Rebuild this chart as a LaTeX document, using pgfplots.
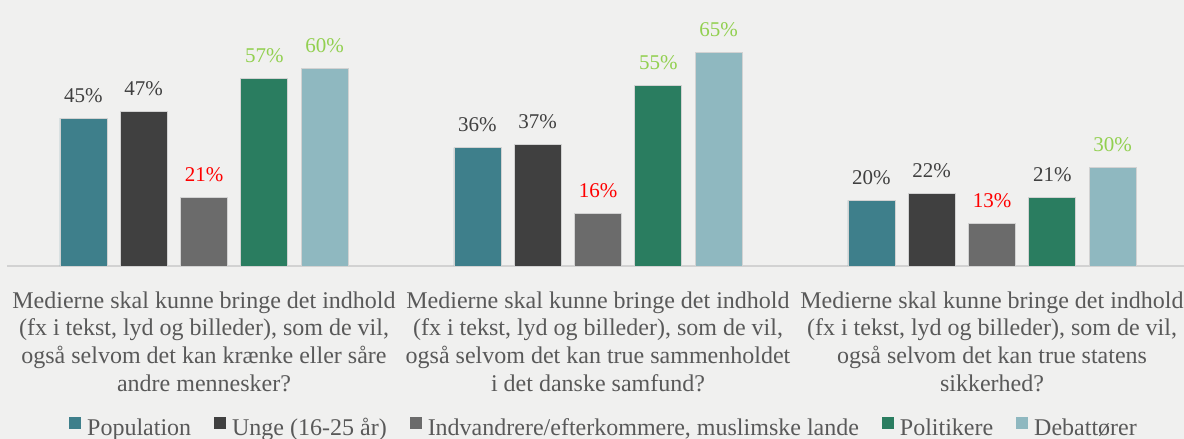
\documentclass[border=0pt]{standalone}
\usepackage{pgfplots}
\pgfplotsset{compat=1.18}
\usepackage{fontspec}
\setmainfont{Liberation Serif}
\definecolor{bg}{RGB}{240,240,239}
\definecolor{cPop}{RGB}{62,127,139}
\definecolor{cUng}{RGB}{64,64,64}
\definecolor{cInd}{RGB}{107,107,107}
\definecolor{cPol}{RGB}{42,125,96}
\definecolor{cDeb}{RGB}{143,184,192}
\definecolor{lgreen}{RGB}{146,208,80}
\definecolor{txt}{RGB}{89,89,89}
\definecolor{dtxt}{RGB}{64,64,64}
\definecolor{bord}{RGB}{210,210,210}
\pgfplotsset{ybar legend/.style={legend image code/.code={\fill[##1,draw=none] (0bp,-1bp) rectangle (12bp,11bp);}}}
\begin{document}
\begin{tikzpicture}
\fill[bg] (-7bp,-173bp) rectangle (1177bp,266bp);
\path[use as bounding box] (-7bp,-173bp) rectangle (1177bp,266bp);
\begin{axis}[
  at={(0,0)}, anchor=south west,
  scale only axis, width=1182bp, height=230bp,
  xmin=-0.5, xmax=2.5, ymin=0, ymax=70,
  axis x line=bottom, axis y line=none,
  axis line style={-, draw=bord, line width=1.2bp},
  xtick={0,1,2}, major tick length=0pt,
  xticklabels={
    {Medierne skal kunne bringe det indhold\\(fx i tekst, lyd og billeder), som de vil,\\også selvom det kan krænke eller såre\\andre mennesker?},
    {Medierne skal kunne bringe det indhold\\(fx i tekst, lyd og billeder), som de vil,\\også selvom det kan true sammenholdet\\i det danske samfund?},
    {Medierne skal kunne bringe det indhold\\(fx i tekst, lyd og billeder), som de vil,\\også selvom det kan true statens\\sikkerhed?}},
  xticklabel style={align=center, font=\fontsize{24bp}{27.7bp}\selectfont, text=txt, yshift=-22bp},
  ybar=13.3bp, bar width=47bp,
  clip=false,
  nodes near coords, point meta=explicit symbolic,
  nodes near coords style={font=\fontsize{21bp}{25bp}\selectfont, anchor=base, yshift=16bp, inner sep=0pt},
  legend style={at={(0.5,0)}, xshift=6bp, yshift=-162bp, anchor=center, draw=none, fill=none,
    font=\fontsize{24bp}{28bp}\selectfont, text=txt, legend columns=-1,
    /tikz/every odd column/.append style={column sep=4bp},
    /tikz/every even column/.append style={column sep=21bp}},
]
\addplot+[fill=cPop, draw=bord, line width=0.8bp, every node near coord/.append style={text=dtxt}]
  coordinates {(0,45) [45\%] (1,36) [36\%] (2,20) [20\%]};
\addlegendentry{Population}
\addplot+[fill=cUng, draw=bord, line width=0.8bp, every node near coord/.append style={text=dtxt}]
  coordinates {(0,47) [47\%] (1,37) [37\%] (2,22) [22\%]};
\addlegendentry{Unge (16-25 år)}
\addplot+[fill=cInd, draw=bord, line width=0.8bp, every node near coord/.append style={text=red}]
  coordinates {(0,21) [21\%] (1,16) [16\%] (2,13) [13\%]};
\addlegendentry{Indvandrere/efterkommere, muslimske lande}
\addplot+[fill=cPol, draw=bord, line width=0.8bp, every node near coord/.append style={text=lgreen}]
  coordinates {(0,57) [57\%] (1,55) [55\%] (2,21) [\textcolor{dtxt}{21\%}]};
\addlegendentry{Politikere}
\addplot+[fill=cDeb, draw=bord, line width=0.8bp, every node near coord/.append style={text=lgreen}]
  coordinates {(0,60) [60\%] (1,65) [65\%] (2,30) [30\%]};
\addlegendentry{Debattører}
\end{axis}
\end{tikzpicture}
\end{document}
